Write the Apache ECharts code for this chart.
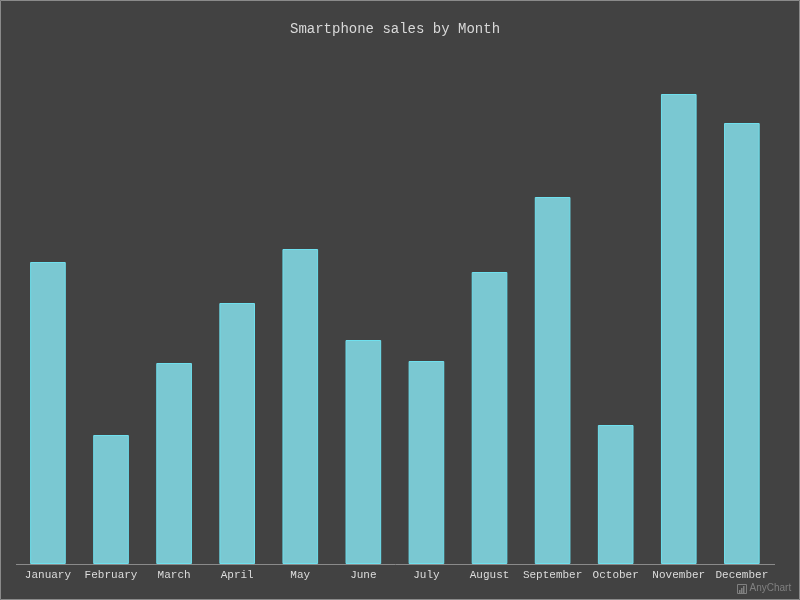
<!DOCTYPE html>
<html>
<head>
<meta charset="utf-8">
<style>html,body{margin:0;padding:0;background:#424242}#c{width:800px;height:600px}</style>
<script src="https://cdn.jsdelivr.net/npm/echarts@6/dist/echarts.min.js"></script>
</head>
<body>
<div id="c"></div>
<script>
const categories = ['January','February','March','April','May','June','July','August','September','October','November','December'];
const sales = [302,129,201,261,315,224,203,292,367,139,470,441];
const chart = echarts.init(document.getElementById('c'), null, {renderer:'canvas'});
const font = '"Liberation Mono", monospace';
chart.setOption({
  animation:false,
  backgroundColor:'#424242',
  title:{text:'Smartphone sales by Month',left:285,top:15,
    textStyle:{fontFamily:font,fontSize:14,fontWeight:'normal',color:'#d9d9d9',lineHeight:18}},
  grid:{left:16.4,right:26.6,top:64,bottom:36},
  xAxis:{type:'category',data:categories,
    axisLine:{show:false},axisTick:{show:false},
    axisLabel:{fontFamily:font,fontSize:11,color:'#dcdcdc',margin:6,interval:0}},
  yAxis:{type:'value',min:0,max:500,show:false,splitLine:{show:false}},
  series:[{type:'bar',data:sales,barWidth:'56.5%',
    itemStyle:{color:'#7ac8d2',borderColor:'#6fe0ee',borderWidth:1}}],
  graphic:[
    {type:'rect',shape:{x:0.5,y:0.5,width:799,height:599},style:{fill:'none',stroke:'#8a8a8a',lineWidth:1},silent:true,z:100},
    {type:'line',shape:{x1:16,y1:564.5,x2:775,y2:564.5},style:{stroke:'#8a8a8a',lineWidth:1},silent:true,z:100},
    {type:'rect',shape:{x:737.5,y:584.5,width:9,height:9},style:{fill:'none',stroke:'#808080',lineWidth:1},silent:true},
    {type:'rect',shape:{x:739,y:590,width:1.5,height:3},style:{fill:'#808080'},silent:true},
    {type:'rect',shape:{x:741,y:588,width:1.5,height:5},style:{fill:'#808080'},silent:true},
    {type:'rect',shape:{x:743,y:586,width:1.5,height:7},style:{fill:'#808080'},silent:true},
    {type:'text',x:749.5,y:583,style:{text:'AnyChart',fontFamily:'"Liberation Sans", Arial, sans-serif',fontSize:10,fill:'#808080'},silent:true}
  ]
});
</script>
</body>
</html>
